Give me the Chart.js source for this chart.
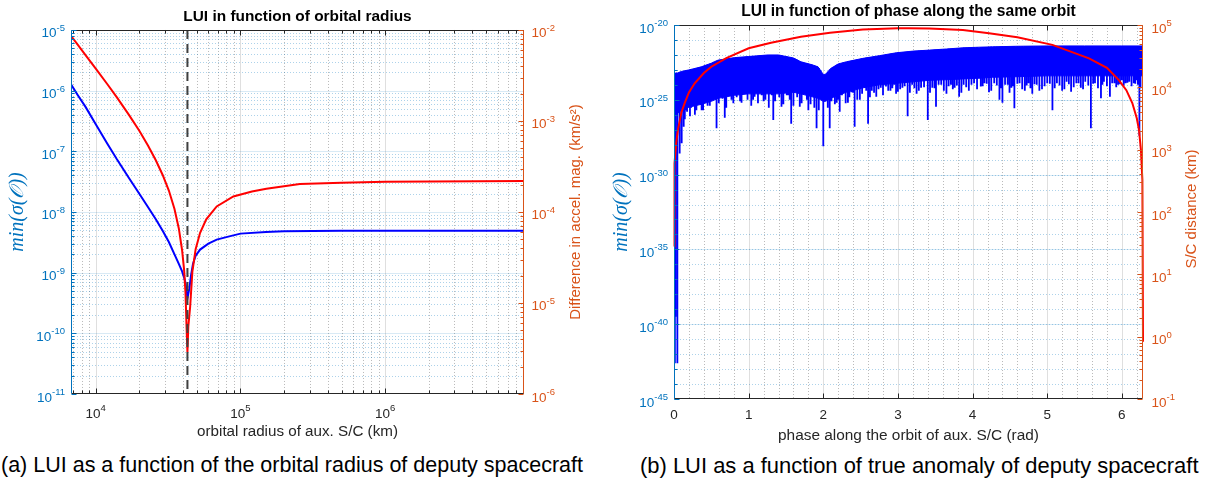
<!DOCTYPE html>
<html lang="en">
<head>
<meta charset="UTF-8">
<title>LUI vs orbital radius and phase</title>
<script src="https://cdn.jsdelivr.net/npm/chart.js"></script>
<style>
  body { margin: 0; background: #fff; width: 1206px; height: 481px; overflow: hidden; position: relative;
         font-family: "Liberation Sans", Arial, Helvetica, sans-serif; }
  canvas { position: absolute; top: 0; }
  #chartA { left: 0; }
  #chartB { left: 600px; }
  .caption { position: absolute; top: 453px; font-size: 21.5px; color: #000; white-space: nowrap; }
</style>
</head>
<body>
<canvas id="chartA" width="600" height="445"></canvas>
<canvas id="chartB" width="606" height="445"></canvas>
<div class="caption" style="left:1px">(a) LUI as a function of the orbital radius of deputy spacecraft</div>
<div class="caption" style="left:640px; font-size:21.95px">(b) LUI as a function of true anomaly of deputy spacecraft</div>
<script>
// ---------- (a) sweep over the orbital radius of the aux. S/C ----------
const luiRadiusKm = [6745, 7500, 8500, 10000, 12000, 14000, 17000, 20000, 23000, 26000, 29000, 32000, 35000, 37500,
                     39500, 40800, 41700, 42400, 43000, 43600, 44300, 45500, 47000, 49000, 52600, 60000, 68500, 85000,
                     100000, 150000, 200000, 500000, 1000000, 9100000];
const luiVsRadius = [1.27e-6, 8.5e-7, 5.4e-7, 2.8e-7, 1.35e-7, 7.4e-8, 3.6e-8, 2.0e-8, 1.2e-8, 7.6e-9, 4.9e-9, 3.2e-9,
                     2.0e-9, 1.4e-9, 1.05e-9, 8.3e-10, 6.8e-10, 5.0e-10, 3.8e-10, 4.5e-10, 5.4e-10, 8.9e-10, 1.4e-9,
                     1.9e-9, 2.4e-9, 3.0e-9, 3.5e-9, 4.0e-9, 4.4e-9, 4.7e-9, 4.8e-9, 4.9e-9, 4.9e-9, 4.9e-9];
const accelRadiusKm = [6745, 7500, 8500, 10000, 12000, 14000, 17000, 20000, 23000, 26000, 29000, 32000, 35000, 37500,
                       39500, 40800, 41700, 42400, 43000, 43600, 44900, 46500, 49000, 52600, 58000, 68500, 89300,
                       120000, 151000, 257000, 500000, 1000000, 9100000];
const accelDiff = [8.6e-3, 6.9e-3, 5.3e-3, 3.77e-3, 2.55e-3, 1.82e-3, 1.16e-3, 7.8e-4, 5.35e-4, 3.7e-4, 2.55e-4,
                   1.72e-4, 1.08e-4, 6.6e-5, 3.8e-5, 2.3e-5, 1.3e-5, 5.5e-6, 2.9e-6, 5.5e-6, 9.1e-6, 2.2e-5, 3.9e-5,
                   5.9e-5, 8.3e-5, 1.15e-4, 1.48e-4, 1.68e-4, 1.8e-4, 2.03e-4, 2.1e-4, 2.15e-4, 2.19e-4];
const geoRadiusKm = 43000;   // dashed marker

// ---------- (b) sweep over the phase along the same orbit ----------
const phaseRad = [0.0, 0.02, 0.05, 0.1, 0.2, 0.365, 0.5, 0.59, 0.81, 1.0, 1.26, 1.4, 1.6, 1.7, 1.85, 1.93, 2.0, 2.03,
                  2.1, 2.2, 2.31, 2.53, 2.75, 2.98, 3.2, 3.42, 3.65, 3.87, 4.1, 4.27, 4.6, 5.0, 5.5, 6.0, 6.2832];
const luiTop = [5.0e-24, 6.3e-24, 6.3e-24, 7.9e-24, 1.0e-23, 1.6e-23, 2.8e-23, 4.5e-23, 6.6e-23, 7.9e-23, 1.0e-22, 1.0e-22,
                6.3e-23, 3.5e-23, 2.2e-23, 1.6e-23, 5.0e-24, 5.0e-24, 1.26e-23, 2.5e-23, 3.5e-23, 5.9e-23, 8.9e-23, 1.4e-22,
                1.8e-22, 2.1e-22, 2.5e-22, 3.0e-22, 3.3e-22, 3.5e-22, 3.8e-22, 4.0e-22, 4.0e-22, 4.0e-22, 4.0e-22];
const luiBottom = [7.9e-27, 1.0e-26, 1.26e-26, 2.0e-26, 3.2e-26, 5.0e-26, 7.9e-26, 1.26e-25, 2.0e-25, 2.5e-25, 2.5e-25,
                   2.5e-25, 3.2e-25, 2.5e-25, 1.6e-25, 1.26e-25, 7.9e-26, 7.9e-26, 1.26e-25, 2.0e-25, 3.2e-25, 6.3e-25,
                   1.0e-24, 1.26e-24, 1.6e-24, 2.0e-24, 2.2e-24, 2.5e-24, 2.8e-24, 3.2e-24, 3.5e-24, 4.0e-24, 4.0e-24,
                   4.0e-24, 4.0e-24];
// long downward spikes of the min singular value
const spikePhase = [0.012, 0.02, 0.045, 0.076, 0.103, 0.13, 0.16, 0.19, 0.214, 0.25, 0.30, 0.33, 0.37, 0.41, 0.45, 0.5,
                    0.54, 0.57, 0.62, 0.68, 0.72, 0.77, 0.82, 0.86, 0.905, 0.96, 1.01, 1.06, 1.1, 1.15, 1.2, 1.25, 1.29,
                    1.33, 1.38, 1.44, 1.49, 1.53, 1.57, 1.62, 1.685, 1.73, 1.76, 1.80, 1.85, 1.91, 1.96, 2.0, 2.04, 2.086,
                    2.13, 2.18, 2.22, 2.27, 2.33, 2.38, 2.42, 2.49, 2.55, 2.6, 2.65, 2.71, 2.77, 2.84, 2.9, 2.95, 3.0,
                    3.06, 3.13, 3.19, 3.25, 3.31, 3.4, 3.46, 3.51, 3.58, 3.65, 3.71, 3.76, 3.82, 3.88, 3.95, 4.02, 4.11,
                    4.16, 4.22, 4.29, 4.36, 4.40, 4.47, 4.52, 4.56, 4.63, 4.70, 4.75, 4.80, 4.86, 4.93, 5.0, 5.07, 5.13,
                    5.2, 5.26, 5.32, 5.39, 5.45, 5.51, 5.585, 5.64, 5.72, 5.76, 5.84, 5.9, 5.95, 6.0, 6.05, 6.1, 6.16,
                    6.2, 6.235];
const spikeMin = [2.5e-43, 3.2e-40, 2.5e-43, 2.6e-29, 1.26e-28, 1.6e-27, 2.0e-26, 4.0e-26, 7.9e-27, 6.3e-26, 2.0e-26,
                  1.0e-25, 2.0e-26, 1.6e-25, 4.0e-26, 2.0e-25, 5.0e-25, 1.26e-27, 6.3e-25, 6.3e-27, 4.0e-25, 1.0e-25,
                  7.9e-25, 3.2e-25, 6.3e-26, 6.3e-25, 4.0e-25, 1.0e-25, 6.3e-25, 3.2e-25, 7.9e-26, 5.0e-25, 2.5e-25,
                  4.5e-27, 4.0e-25, 3.5e-26, 6.3e-25, 2.0e-25, 2.5e-27, 5.0e-25, 3.5e-26, 3.2e-25, 6.3e-25, 2.0e-26,
                  2.5e-25, 1.26e-27, 1.6e-25, 7.9e-29, 1.0e-25, 1.26e-27, 1.6e-25, 6.3e-26, 1.6e-26, 4.0e-25, 6.3e-26,
                  3.2e-25, 1.6e-27, 1.0e-25, 6.3e-25, 2.5e-27, 4.0e-25, 1.6e-25, 6.3e-25, 7.9e-25, 4.0e-25, 1.0e-24,
                  3.5e-25, 6.3e-25, 7.9e-27, 1.0e-24, 2.5e-25, 6.3e-25, 4.5e-27, 6.3e-25, 3.5e-26, 1.0e-24, 2.5e-25,
                  1.0e-24, 6.3e-25, 1.6e-25, 1.0e-24, 4.0e-25, 1.26e-24, 7.9e-25, 1.26e-24, 3.2e-25, 1.26e-24, 1.0e-25,
                  6.3e-26, 1.0e-24, 6.3e-25, 2.7e-26, 1.26e-24, 4.0e-25, 1.26e-24, 2.5e-25, 1.0e-24, 5.0e-25, 1.26e-24,
                  2.0e-26, 1.26e-24, 4.0e-25, 1.6e-24, 3.5e-25, 1.26e-24, 6.3e-25, 1.6e-24, 1.26e-27, 1.26e-24, 1.26e-25,
                  1.6e-24, 1.6e-25, 1.26e-24, 1.0e-24, 2.0e-24, 1.26e-24, 1.6e-24, 1.26e-24, 2.0e-24, 4.0e-28];
// short spikes that make the ragged lower edge of the band
const shortSpikePhase = [0.145, 0.175, 0.23, 0.28, 0.35, 0.39, 0.43, 0.48, 0.52, 0.6, 0.65, 0.7, 0.745, 0.795, 0.84,
                         0.885, 0.93, 0.985, 1.035, 1.08, 1.125, 1.175, 1.225, 1.27, 1.31, 1.355, 1.41, 1.465, 1.51,
                         1.55, 1.6, 1.65, 1.71, 1.78, 1.83, 1.88, 1.94, 2.06, 2.11, 2.155, 2.2, 2.25, 2.3, 2.35, 2.4,
                         2.455, 2.52, 2.575, 2.625, 2.68, 2.74, 2.8, 2.87, 2.925, 2.975, 3.03, 3.09, 3.16, 3.22, 3.28,
                         3.35, 3.43, 3.49, 3.545, 3.615, 3.68, 3.735, 3.79, 3.85, 3.915, 3.985, 4.06, 4.135, 4.19, 4.25,
                         4.325, 4.38, 4.435, 4.495, 4.54, 4.6, 4.665, 4.725, 4.775, 4.83, 4.895, 4.965, 5.035, 5.1,
                         5.165, 5.23, 5.29, 5.355, 5.42, 5.48, 5.55, 5.615, 5.68, 5.74, 5.8, 5.87, 5.925, 5.975, 6.025,
                         6.075, 6.13, 6.18, 6.215, 6.25];
const shortSpikeMin = [5e-27, 1.6e-26, 3e-26, 1e-26, 5e-26, 2e-26, 8e-26, 4e-26, 1.5e-25, 6e-26,
                       1.2e-25, 3e-26, 2e-25, 6e-26, 1.5e-25, 8e-26, 2.5e-25, 1e-25, 4e-26, 1.6e-25,
                       6e-26, 2e-25, 1e-25, 3e-26, 2e-25, 8e-26, 1.5e-25, 5e-26, 2e-25, 1e-25,
                       4e-26, 1.5e-25, 6e-26, 1e-25, 5e-26, 3e-26, 2e-26, 3e-26, 8e-26, 5e-26,
                       1e-25, 2e-25, 6e-26, 1.5e-25, 3e-25, 1e-25, 2.5e-25, 4e-25, 1.5e-25, 3e-25,
                       5e-25, 2e-25, 4e-25, 6e-25, 2.5e-25, 5e-25, 8e-25, 3e-25, 6e-25, 4e-25,
                       7e-25, 3e-25, 6e-25, 1e-24, 4e-25, 8e-25, 5e-25, 9e-25, 3e-25, 7e-25,
                       1e-24, 5e-25, 8e-25, 1.2e-24, 4e-25, 9e-25, 6e-25, 1e-24, 3e-25, 8e-25,
                       1.2e-24, 5e-25, 9e-25, 6e-25, 1.1e-24, 4e-25, 8e-25, 1.2e-24, 6e-25, 9e-25,
                       5e-25, 1.1e-24, 7e-25, 1.3e-24, 5e-25, 9e-25, 1.2e-24, 6e-25, 1e-24, 8e-25,
                       1.3e-24, 7e-25, 1.1e-24, 9e-25, 1.4e-24, 8e-25, 1.2e-24, 1e-24, 6e-25];
const distPhase = [0.0007, 0.004, 0.01, 0.03, 0.053, 0.1, 0.143, 0.2, 0.277, 0.4, 0.5, 0.7, 1.0, 1.3, 1.7, 2.09, 2.53,
                   3.0, 3.14, 3.42, 3.87, 4.22, 4.6, 5.07, 5.56, 5.8, 5.96, 6.06, 6.14, 6.2, 6.23, 6.255, 6.275, 6.2832];
const scDistanceKm = [28, 170, 600, 1300, 2100, 4000, 5600, 8300, 11600, 17000, 21400, 29500, 42300, 52000, 65000, 75100,
                      84500, 88500, 89000, 88000, 83000, 74000, 63500, 48000, 29200, 20500, 13100, 9000, 5600, 3200,
                      2070, 1000, 330, 0.83];

// ---------- helpers ----------
const FONT = '"Liberation Sans", Arial, Helvetica, sans-serif';
const MATH_FONT = '"Liberation Serif", "DejaVu Serif", serif';
const AX = '#262626', BLUE_AX = '#0072BD', ORANGE_AX = '#D95319';
const BASE_FONT = '13.5px ' + FONT, EXP_FONT = '9.5px ' + FONT;

function decades(lo, hi, step) {
  const out = [];
  for (let e = lo; e <= hi; e += step) out.push(Math.pow(10, e));
  return out;
}
function logMinors(lo, hi) {
  const out = [];
  for (let e = lo; e < hi; e++) for (let k = 2; k <= 9; k++) out.push(k * Math.pow(10, e));
  return out;
}
function steps(lo, hi, d) {
  const out = [];
  for (let i = 0; lo + i * d <= hi + 1e-9; i++) out.push(+(lo + i * d).toFixed(6));
  return out;
}
function zip(xs, ys) { return xs.map((x, i) => ({x: x, y: ys[i]})); }
function logInterp(xs, ys, x) {
  let i = 1;
  while (i < xs.length - 1 && xs[i] < x) i++;
  const t = (x - xs[i - 1]) / (xs[i] - xs[i - 1]);
  const a = Math.log10(ys[i - 1]), b = Math.log10(ys[i]);
  return Math.pow(10, a + t * (b - a));
}

// "10" with a raised exponent, like MATLAB's log tick labels
function drawPow(ctx, v, x, y, align, color) {
  const e = String(Math.round(Math.log10(v)));
  ctx.font = BASE_FONT; const wb = ctx.measureText('10').width;
  ctx.font = EXP_FONT; const we = ctx.measureText(e).width;
  const x0 = align === 'right' ? x - wb - we : align === 'center' ? x - (wb + we) / 2 : x;
  ctx.fillStyle = color;
  ctx.textAlign = 'left';
  ctx.textBaseline = 'alphabetic';
  ctx.font = BASE_FONT; ctx.fillText('10', x0, y);
  ctx.font = EXP_FONT; ctx.fillText(e, x0 + wb, y - 6.5);
}

// grid, tick marks, tick labels and box drawn MATLAB-style from the chart's own scales
const matlabAxes = {
  id: 'matlabAxes',
  beforeDatasetsDraw(chart, args, o) {
    const {ctx, chartArea: a} = chart;
    const sx = chart.scales.x, sy = chart.scales.y;
    ctx.save();
    ctx.lineWidth = 1;
    const grid = (vals, s, vertical, color, dash) => {
      ctx.strokeStyle = color;
      ctx.setLineDash(dash);
      ctx.beginPath();
      vals.filter(v => v > s.min && v < s.max).forEach(v => {
        const p = Math.round(s.getPixelForValue(v)) + 0.5;
        if (vertical) { ctx.moveTo(p, a.top); ctx.lineTo(p, a.bottom); }
        else { ctx.moveTo(a.left, p); ctx.lineTo(a.right, p); }
      });
      ctx.stroke();
    };
    grid(o.xMinor, sx, true, 'rgba(38,38,38,0.32)', [1, 2]);
    grid(o.yMinor, sy, false, 'rgba(0,114,189,0.32)', [1, 2]);
    grid(o.xMajor, sx, true, 'rgba(38,38,38,0.15)', []);
    grid(o.yMajor, sy, false, 'rgba(0,114,189,0.15)', []);
    ctx.restore();
  },
  afterDatasetsDraw(chart, args, o) {
    const {ctx, chartArea: a} = chart;
    const sx = chart.scales.x, sy = chart.scales.y, sy2 = chart.scales.y2;
    const L = Math.round(a.left) + 0.5, R = Math.round(a.right) - 0.5;
    const T = Math.round(a.top) + 0.5, B = Math.round(a.bottom) - 0.5;
    ctx.save();
    ctx.lineWidth = 1;
    const seg = (x1, y1, x2, y2) => { ctx.moveTo(x1, y1); ctx.lineTo(x2, y2); };
    const inside = (v, s) => v >= s.min * 0.9999 && v <= s.max * 1.0001;
    // x ticks (bottom and top, pointing in)
    ctx.strokeStyle = AX;
    ctx.beginPath();
    [[o.xMajor, 5], [o.xMinorTicks || [], 3]].forEach(([vals, len]) => vals.filter(v => inside(v, sx)).forEach(v => {
      const p = Math.round(sx.getPixelForValue(v)) + 0.5;
      seg(p, B, p, B - len); seg(p, T, p, T + len);
    }));
    seg(L, T, R, T); seg(L, B, R, B);
    ctx.stroke();
    // left y ticks
    ctx.strokeStyle = BLUE_AX;
    ctx.beginPath();
    [[o.yMajor, 5], [o.yMinorTicks, 3]].forEach(([vals, len]) => vals.filter(v => inside(v, sy)).forEach(v => {
      const p = Math.round(sy.getPixelForValue(v)) + 0.5;
      seg(L, p, L + len, p);
    }));
    seg(L, T, L, B);
    ctx.stroke();
    // right y ticks
    ctx.strokeStyle = ORANGE_AX;
    ctx.beginPath();
    [[o.y2Major, 5], [o.y2Minor, 3]].forEach(([vals, len]) => vals.filter(v => inside(v, sy2)).forEach(v => {
      const p = Math.round(sy2.getPixelForValue(v)) + 0.5;
      seg(R, p, R - len, p);
    }));
    seg(R, T, R, B);
    ctx.stroke();

    // tick labels
    o.xMajor.filter(v => inside(v, sx)).forEach(v => {
      const p = sx.getPixelForValue(v);
      if (o.xLog) drawPow(ctx, v, p, a.bottom + 23.5, 'center', AX);
      else {
        ctx.font = BASE_FONT; ctx.fillStyle = AX; ctx.textAlign = 'center'; ctx.textBaseline = 'alphabetic';
        ctx.fillText(String(v), p, a.bottom + 19.5);
      }
    });
    o.yMajor.forEach(v => drawPow(ctx, v, a.left - 6, sy.getPixelForValue(v) + 7.5, 'right', BLUE_AX));
    o.y2Major.forEach(v => drawPow(ctx, v, a.right + o.y2LabelPad, sy2.getPixelForValue(v) + 7.5, 'left', ORANGE_AX));

    // right axis label, reading bottom to top
    ctx.translate(o.y2TitleX, (a.top + a.bottom) / 2 + (o.y2TitleDy || 0));
    ctx.rotate(-Math.PI / 2);
    ctx.fillStyle = ORANGE_AX;
    ctx.font = '15px ' + FONT;
    ctx.textAlign = 'center';
    ctx.textBaseline = 'middle';
    ctx.fillText(o.y2Title, 0, 0);
    ctx.restore();
  }
};

function logAxis(pos, min, max, width) {
  return {
    type: 'logarithmic', position: pos, min: min, max: max,
    afterFit: s => { s.width = width; },
    grid: {display: false, drawTicks: false},
    border: {display: false},
    ticks: {display: false}
  };
}

const commonPlugins = {legend: {display: false}, tooltip: {enabled: false}};
const yTitle = pad => ({display: true, text: 'min(σ(𝒪))', color: BLUE_AX, padding: {top: pad, bottom: 0},
                        font: {family: MATH_FONT, style: 'italic', size: 20, lineHeight: 1.2}});

// ---------- chart (a) ----------
const yA = logAxis('left', 1e-11, 1e-5, 71);
yA.title = yTitle(6);

new Chart(document.getElementById('chartA'), {
  type: 'line',
  data: {
    datasets: [
      {data: [{x: geoRadiusKm, y: 1e-5}, {x: geoRadiusKm, y: 1e-11}], yAxisID: 'y',
       borderColor: '#404040', borderWidth: 2, borderDash: [9, 5], pointRadius: 0},
      {data: zip(accelRadiusKm, accelDiff), yAxisID: 'y2', borderColor: '#ff0000', borderWidth: 2, pointRadius: 0},
      {data: zip(luiRadiusKm, luiVsRadius), yAxisID: 'y', borderColor: '#0000ff', borderWidth: 2, pointRadius: 0}
    ]
  },
  options: {
    responsive: false, animation: false, devicePixelRatio: 1,
    layout: {padding: 0},
    elements: {line: {tension: 0}},
    plugins: Object.assign({}, commonPlugins, {
      title: {display: true, text: 'LUI in function of orbital radius', fullSize: false, color: '#000',
              font: {family: FONT, size: 15.4, weight: 'bold', lineHeight: 1.2}, padding: {top: 7.5, bottom: 4}},
      matlabAxes: {
        xLog: true,
        xMajor: decades(4, 6, 1), xMinor: logMinors(3, 7), xMinorTicks: logMinors(3, 7),
        yMajor: decades(-11, -5, 1), yMinor: logMinors(-11, -5), yMinorTicks: logMinors(-11, -5),
        y2Major: decades(-6, -2, 1), y2Minor: logMinors(-6, -2), y2LabelPad: 7.5,
        y2Title: 'Difference in accel. mag. (km/s²)', y2TitleX: 576
      }
    }),
    scales: {
      x: {
        type: 'logarithmic', position: 'bottom', min: 6745, max: 9.1e6,
        afterFit: s => { s.height = 51; },
        grid: {display: false, drawTicks: false},
        border: {display: false},
        ticks: {display: false},
        title: {display: true, text: 'orbital radius of aux. S/C (km)', color: AX, padding: {top: 0, bottom: 4},
                font: {family: FONT, size: 15.2, lineHeight: 1.2}}
      },
      y: yA,
      y2: logAxis('right', 1e-6, 1e-2, 76)
    }
  },
  plugins: [matlabAxes]
});

// ---------- chart (b) ----------
const spikePoints = [];
const addSpikes = (xs, lows) => xs.forEach((x, i) => {
  spikePoints.push({x: x, y: logInterp(phaseRad, luiTop, x)}, {x: x, y: lows[i]}, {x: x, y: null});
});
addSpikes(spikePhase, spikeMin);
addSpikes(shortSpikePhase, shortSpikeMin);

const yB = logAxis('left', 1e-45, 1e-20, 74);
yB.title = yTitle(9.5);

new Chart(document.getElementById('chartB'), {
  type: 'line',
  data: {
    datasets: [
      {data: zip(distPhase, scDistanceKm), yAxisID: 'y2', borderColor: '#ff0000', borderWidth: 2, pointRadius: 0,
       clip: {left: 2, top: 0, right: 3, bottom: 0}},
      {data: spikePoints, yAxisID: 'y', borderColor: '#0000ff', borderWidth: 1.8, pointRadius: 0},
      {data: zip(phaseRad, luiTop), yAxisID: 'y', borderColor: '#0000ff', borderWidth: 1, pointRadius: 0,
       fill: '+1', backgroundColor: '#0000ff'},
      {data: zip(phaseRad, luiBottom), yAxisID: 'y', borderColor: '#0000ff', borderWidth: 1, pointRadius: 0}
    ]
  },
  options: {
    responsive: false, animation: false, devicePixelRatio: 1,
    layout: {padding: 0},
    elements: {line: {tension: 0}},
    plugins: Object.assign({}, commonPlugins, {
      title: {display: true, text: 'LUI in function of phase along the same orbit', fullSize: false, color: '#000',
              font: {family: FONT, size: 15.6, weight: 'bold', lineHeight: 1.2}, padding: {top: 2.5, bottom: 3.8}},
      matlabAxes: {
        xLog: false,
        xMajor: steps(0, 6, 1), xMinor: steps(0, 6.2, 0.2).filter(v => Math.abs(v - Math.round(v)) > 1e-6),
        yMajor: decades(-45, -20, 5), yMinor: decades(-45, -20, 1), yMinorTicks: decades(-45, -20, 1),
        y2Major: decades(-1, 5, 1), y2Minor: logMinors(-1, 5), y2LabelPad: 8.5,
        y2Title: 'S/C distance (km)', y2TitleX: 592, y2TitleDy: -3
      }
    }),
    scales: {
      x: {
        type: 'linear', position: 'bottom', min: 0, max: 6.2832,
        afterFit: s => { s.height = 46; },
        grid: {display: false, drawTicks: false},
        border: {display: false},
        ticks: {display: false},
        title: {display: true, text: 'phase along the orbit of aux. S/C (rad)', color: AX, padding: {top: 0, bottom: 0},
                font: {family: FONT, size: 15.4, lineHeight: 1.2}}
      },
      y: yB,
      y2: logAxis('right', 1e-1, 1e5, 63)
    }
  },
  plugins: [matlabAxes]
});
</script>
</body>
</html>
